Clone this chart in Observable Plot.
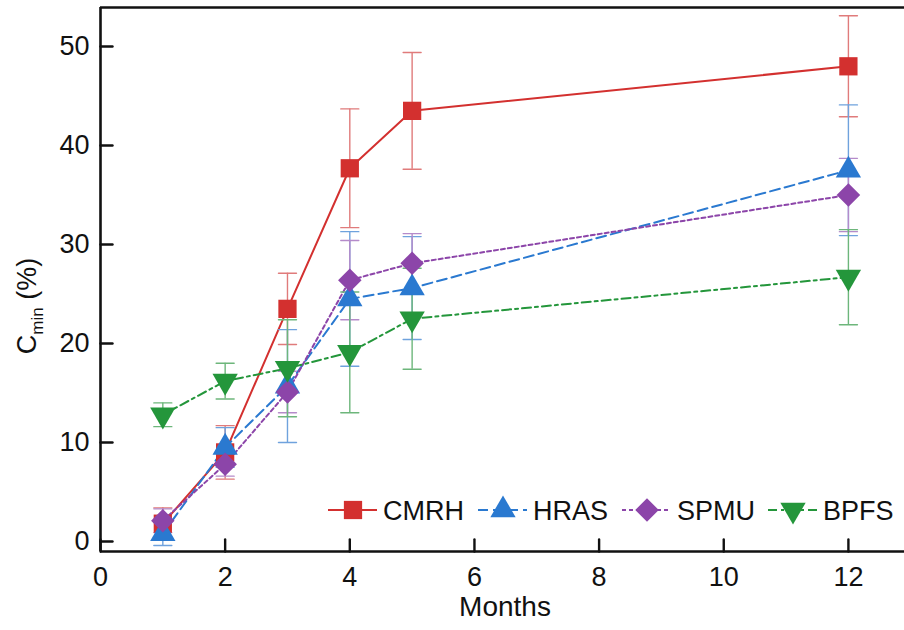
<!DOCTYPE html>
<html><head><meta charset="utf-8">
<script src="https://cdn.jsdelivr.net/npm/d3@7"></script>
<script src="https://cdn.jsdelivr.net/npm/@observablehq/plot@0.6"></script>
<style>
body{margin:0;background:#fff;}
svg{font-family:"Liberation Sans",Arial,Helvetica,sans-serif;}
</style>
</head><body><div id="chart"></div>
<script>
// ---- data ----
const months = [1, 2, 3, 4, 5, 12];
const seriesNames = ["CMRH", "HRAS", "SPMU", "BPFS"];
const cmrh    = [1.8, 9.0, 23.5, 37.7, 43.5, 48.0];
const cmrhErr = [1.6, 2.7, 3.6, 6.0, 5.9, 5.1];
const hras    = [0.8, 9.5, 15.7, 24.5, 25.6, 37.5];
const hrasErr = [1.2, 2.0, 5.7, 6.8, 5.2, 6.6];
const spmu    = [2.1, 7.8, 15.1, 26.4, 28.1, 35.0];
const spmuErr = [1.2, 1.2, 2.1, 4.0, 3.0, 3.7];
const bpfs    = [12.8, 16.2, 17.5, 19.1, 22.5, 26.7];
const bpfsErr = [1.2, 1.8, 4.9, 6.1, 5.1, 4.8];
const xTicks = [0, 2, 4, 6, 8, 10, 12];
const yTicks = [0, 10, 20, 30, 40, 50];
const xLabel = "Months";

// ---- styling ----
const values = [cmrh, hras, spmu, bpfs];
const errs = [cmrhErr, hrasErr, spmuErr, bpfsErr];
const styles = {
  CMRH: {color: "#d3302f", err: "#e07b7b", symbol: "square",   d3sym: d3.symbolSquare,   r: 10.3, rotate: 0,   dash: null},
  HRAS: {color: "#2a79d0", err: "#6fa2dd", symbol: "triangle", d3sym: d3.symbolTriangle, r: 9.4,  rotate: 0,   dash: "10,5"},
  SPMU: {color: "#8c45a9", err: "#b58bca", symbol: "diamond2", d3sym: d3.symbolDiamond2, r: 10.6, rotate: 0,   dash: "4,3"},
  BPFS: {color: "#24963b", err: "#6db67b", symbol: "triangle", d3sym: d3.symbolTriangle, r: 9.4,  rotate: 180, dash: "9,4,3,4"}
};

const rows = [];
seriesNames.forEach((name, i) => {
  months.forEach((m, j) => {
    const v = values[i][j], e = errs[i][j];
    rows.push({series: name, month: m, value: v, lo: v - e, hi: v + e});
  });
});

const yMin = -1.01, yMax = 53.94;
const lineShape = {draw(ctx, l) { ctx.moveTo(0, 0); ctx.lineTo(0, -l); }};
const capShape = {draw(ctx, l) { ctx.moveTo(-l / 2, 0); ctx.lineTo(l / 2, 0); }};

const marks = [];
seriesNames.forEach(name => {
  const s = styles[name];
  const d = rows.filter(r => r.series === name);
  marks.push(
    Plot.ruleX(d, {x: "month", y1: "lo", y2: "hi", stroke: s.err, strokeWidth: 1.4}),
    Plot.vector(d, {x: "month", y: "hi", length: 18, anchor: "start", shape: capShape, stroke: s.err, strokeWidth: 1.4}),
    Plot.vector(d, {x: "month", y: "lo", length: 18, anchor: "start", shape: capShape, stroke: s.err, strokeWidth: 1.4}),
    Plot.line(d, {x: "month", y: "value", stroke: s.color, strokeWidth: 2, strokeDasharray: s.dash})
  );
});
seriesNames.forEach(name => {
  const s = styles[name];
  const d = rows.filter(r => r.series === name);
  marks.push(Plot.dot(d, {x: "month", y: "value", symbol: s.symbol, r: s.r, rotate: s.rotate, fill: s.color, stroke: "none"}));
});

// frame + ticks + labels
marks.push(
  Plot.ruleY([yMin], {stroke: "#111", strokeWidth: 2.6}),
  Plot.ruleY([yMax], {stroke: "#111", strokeWidth: 2.6}),
  Plot.ruleX([0], {stroke: "#111", strokeWidth: 2.6}),
  Plot.vector(xTicks, {x: d => d, frameAnchor: "bottom", length: 12, anchor: "start", shape: lineShape, stroke: "#111", strokeWidth: 2.4}),
  Plot.vector(yTicks, {y: d => d, frameAnchor: "left", length: 12, rotate: 90, anchor: "start", shape: lineShape, stroke: "#111", strokeWidth: 2.4}),
  Plot.axisX(xTicks, {tickSize: 0, tickPadding: 15, fontSize: 27, label: null, fill: "#111"}),
  Plot.axisY(yTicks, {tickSize: 0, tickPadding: 11, fontSize: 27, label: null, fill: "#111"})
);

const chart = Plot.plot({
  width: 904, height: 630,
  marginLeft: 100, marginRight: 0, marginTop: 7, marginBottom: 79,
  x: {domain: [0, 12.9]},
  y: {domain: [yMin, yMax]},
  style: {background: "#fff", color: "#111", fontFamily: "'Liberation Sans', Arial, sans-serif"},
  marks
});
document.getElementById("chart").append(chart);

// ---- extra text & legend ----
const svg = d3.select(chart);
svg.append("text").attr("x", 505).attr("y", 616).attr("text-anchor", "middle")
  .attr("font-size", 28).attr("fill", "#111").text(xLabel);

const yl = svg.append("text").attr("transform", "translate(36,306) rotate(-90)")
  .attr("text-anchor", "middle").attr("font-size", 27).attr("fill", "#111");
yl.append("tspan").text("C");
yl.append("tspan").attr("font-size", 17).attr("dy", 7).text("min");
yl.append("tspan").attr("dy", -7).text(" (%)");

const legendX = [328, 478, 622, 768];
const lg = svg.append("g");
seriesNames.forEach((name, i) => {
  const s = styles[name];
  const x0 = legendX[i], y0 = 510;
  lg.append("line").attr("x1", x0).attr("x2", x0 + 49).attr("y1", y0).attr("y2", y0)
    .attr("stroke", s.color).attr("stroke-width", 2).attr("stroke-dasharray", s.dash);
  lg.append("path").attr("d", d3.symbol().type(s.d3sym).size(s.r * s.r * Math.PI)())
    .attr("transform", `translate(${x0 + 25},${y0}) rotate(${s.rotate})`).attr("fill", s.color);
  lg.append("text").attr("x", x0 + 55).attr("y", y0 + 9.5).attr("text-anchor", "start")
    .attr("font-size", 27).attr("fill", "#111").text(name);
});
</script>
</body></html>
